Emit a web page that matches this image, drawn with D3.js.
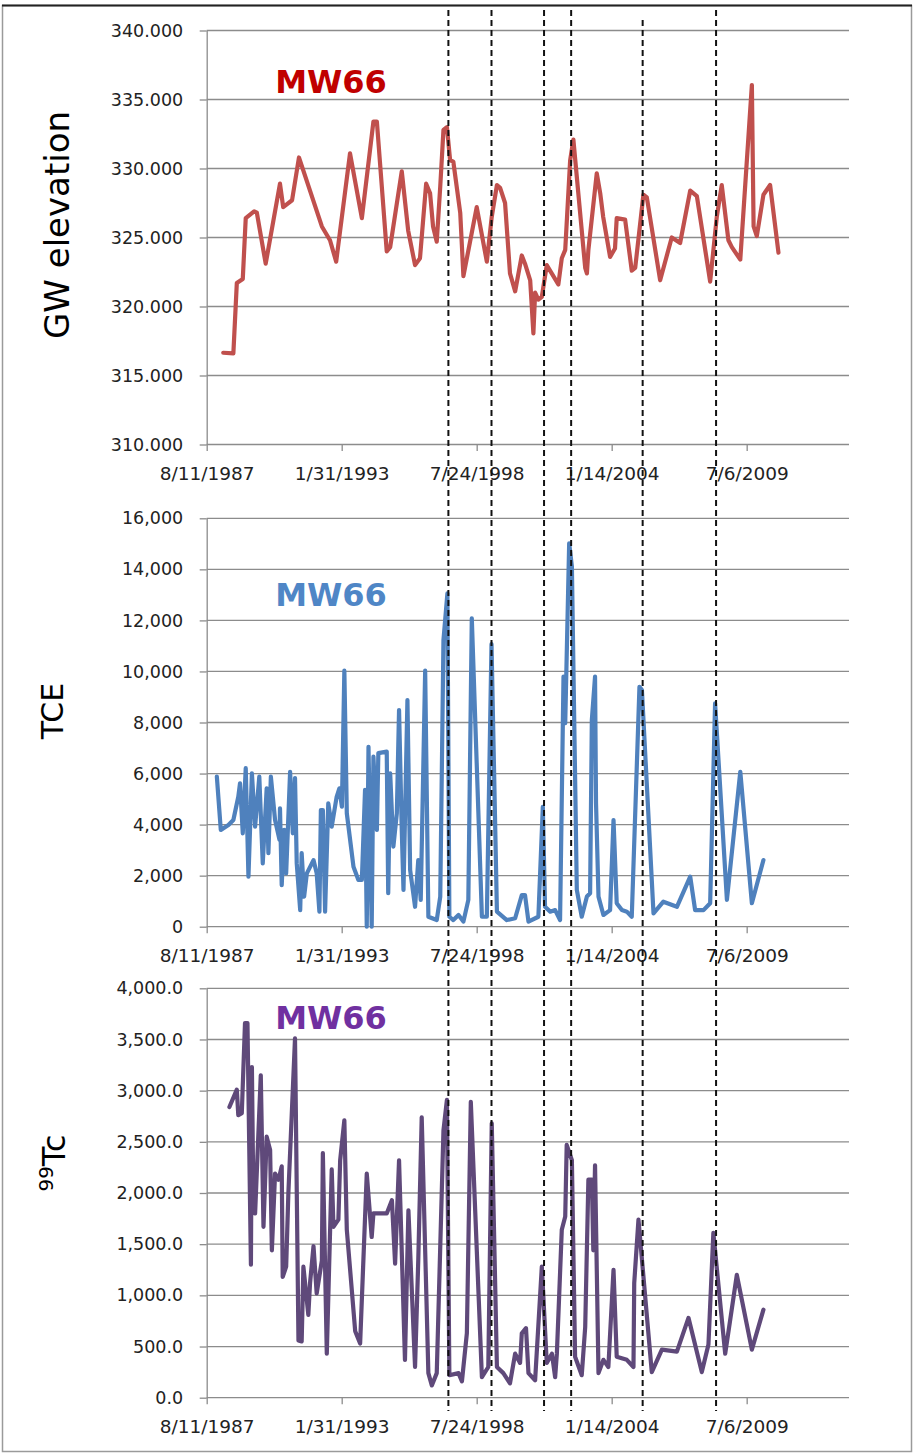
<!DOCTYPE html>
<html lang="en">
<head>
    <meta charset="UTF-8">
    <title>MW66</title>
    <script src="https://cdn.jsdelivr.net/npm/d3@7"></script>
    <style>
        body { margin: 0; background: #fff; }
        text { font-family: "DejaVu Sans", sans-serif; }
    </style>
</head>
<body>
    <div id="chart-space"></div>

    <script>
        // x axis: dates, ticks every 2000 days like the Excel chart
        var axisStart = "1987-08-11";
        var axisEnd = "2013-08-30";
        var tickDates = ["1987-08-11", "1993-01-31", "1998-07-24", "2004-01-14", "2009-07-06"];
        var tickLabels = ["8/11/1987", "1/31/1993", "7/24/1998", "1/14/2004", "7/6/2009"];

        // dashed event lines (decimal years)
        var eventYears = [1997.41, 1999.16, 2001.29, 2002.39, 2005.29, 2008.27];

        // GW elevation
        var gwYears = [1988.28,1988.69,1988.83,1989.07,1989.19,1989.53,1989.64,1990.00,1990.58,1990.71,
            1991.07,1991.35,1992.28,1992.61,1992.86,1993.42,1993.90,1994.37,1994.51,1994.91,
            1995.05,1995.52,1995.78,1996.06,1996.26,1996.51,1996.67,1996.79,1996.94,1997.08,
            1997.21,1997.35,1997.48,1997.61,1997.89,1998.02,1998.56,1998.97,1999.17,1999.38,
            1999.51,1999.71,1999.91,2000.12,2000.39,2000.52,2000.73,2000.86,2000.93,2001.06,
            2001.20,2001.40,2001.87,2002.01,2002.15,2002.35,2002.48,2002.96,2003.03,2003.09,
            2003.43,2003.57,2003.69,2003.97,2004.17,2004.24,2004.58,2004.85,2004.99,2005.32,
            2005.46,2006.00,2006.47,2006.81,2007.22,2007.49,2008.03,2008.30,2008.50,2008.77,
            2008.91,2009.25,2009.72,2009.79,2009.92,2010.19,2010.46,2010.80];
        var gwValues = [316.65,316.6,321.7,322.0,326.4,326.9,326.8,323.1,328.9,327.2,
            327.7,330.8,325.8,324.8,323.25,331.1,326.4,333.4,333.4,324.0,
            324.3,329.8,325.5,323.0,323.5,328.9,328.2,325.8,324.7,328.7,
            332.8,333.0,330.6,330.5,326.8,322.2,327.2,323.25,326.5,328.8,
            328.6,327.5,322.4,321.1,323.7,323.1,321.9,318.05,321.0,320.5,
            320.7,323.0,321.6,323.5,324.1,330.6,332.1,322.8,322.4,324.1,
            329.65,328.2,326.5,323.6,324.2,326.4,326.3,322.6,322.8,328.1,
            327.9,321.9,325.0,324.6,328.4,328.0,321.8,326.5,328.8,324.8,
            324.3,323.4,336.05,325.8,325.1,328.1,328.8,323.9];

        // TCE
        var tceYears = [1988.02,1988.18,1988.49,1988.69,1988.89,1988.96,1989.07,1989.19,1989.30,1989.44,
            1989.57,1989.74,1989.88,1990.04,1990.11,1990.21,1990.38,1990.56,1990.58,1990.65,
            1990.75,1990.83,1990.99,1991.10,1991.19,1991.26,1991.40,1991.46,1991.56,1991.67,
            1991.94,1992.07,1992.18,1992.24,1992.32,1992.41,1992.54,1992.68,1992.88,1992.99,
            1993.09,1993.19,1993.29,1993.56,1993.76,1993.90,1994.03,1994.10,1994.17,1994.30,
            1994.37,1994.51,1994.57,1994.91,1994.97,1995.05,1995.18,1995.32,1995.41,1995.52,
            1995.59,1995.75,1995.86,1996.06,1996.19,1996.29,1996.47,1996.60,1996.94,1997.08,
            1997.21,1997.37,1997.45,1997.61,1997.82,1998.02,1998.22,1998.36,1998.77,1998.97,
            1999.16,1999.38,1999.78,2000.12,2000.39,2000.52,2000.66,2001.06,2001.24,2001.33,
            2001.54,2001.74,2001.94,2002.08,2002.15,2002.31,2002.42,2002.62,2002.82,2003.03,
            2003.16,2003.23,2003.36,2003.40,2003.50,2003.70,2003.97,2004.11,2004.24,2004.45,
            2004.65,2004.85,2005.16,2005.26,2005.73,2006.13,2006.68,2007.22,2007.42,2007.76,
            2008.03,2008.23,2008.71,2009.25,2009.72,2010.19];
        var tceValues = [5880,3790,3985,4180,5090,5620,3660,6210,1960,6010,
            3920,5880,2480,5420,2880,5880,4180,3400,4640,1630,
            3790,2090,6070,3660,5820,2480,650,2880,1180,2090,
            2610,2090,590,4570,4570,590,4830,3920,5090,5420,
            4700,10030,4440,2350,1830,1830,5360,0,7050,0,
            6660,3790,6800,6860,1310,6010,3140,4440,8490,3790,
            1440,8880,2220,780,2610,1050,10030,390,260,1180,
            11230,13060,390,260,460,200,1050,12080,390,390,
            11070,590,260,330,1240,1240,200,390,4700,780,
            590,650,260,9800,7970,15020,14110,1440,390,1180,
            1310,8100,9800,4840,1180,460,650,4180,920,650,
            590,390,9400,9270,520,980,780,1960,650,650,
            920,8750,1050,6070,920,2610];

        // 99Tc
        var tcYears = [1988.53,1988.83,1988.89,1989.03,1989.16,1989.26,1989.40,1989.44,1989.50,1989.57,
            1989.80,1989.91,1990.04,1990.18,1990.25,1990.38,1990.52,1990.65,1990.69,1990.83,
            1990.92,1991.19,1991.33,1991.46,1991.53,1991.73,1991.80,1991.94,1992.07,1992.28,
            1992.32,1992.48,1992.68,1992.75,1992.95,1993.02,1993.19,1993.29,1993.63,1993.83,
            1994.10,1994.30,1994.37,1994.91,1995.12,1995.25,1995.41,1995.65,1995.79,1996.06,
            1996.19,1996.33,1996.60,1996.74,1996.94,1997.21,1997.35,1997.45,1997.82,1997.96,
            1998.16,1998.32,1998.77,1999.03,1999.17,1999.38,1999.64,1999.91,2000.12,2000.32,
            2000.39,2000.56,2000.66,2000.93,2001.20,2001.40,2001.61,2001.74,2001.81,2002.01,
            2002.15,2002.21,2002.42,2002.55,2002.82,2002.96,2003.09,2003.23,2003.29,2003.36,
            2003.50,2003.70,2003.90,2004.11,2004.24,2004.65,2004.92,2004.95,2005.12,2005.66,
            2006.07,2006.68,2007.15,2007.69,2007.96,2008.16,2008.64,2009.11,2009.72,2010.19];
        var tcValues = [2840,3010,2760,2780,3660,3660,1300,3230,1930,1800,
            3150,1670,2550,2420,1440,2190,2130,2260,1180,1280,
            2000,3510,560,550,1280,810,1120,1480,1020,1340,
            2390,430,2230,1670,1740,2320,2710,1640,650,530,
            2190,1570,1800,1800,1930,1310,2320,370,1830,300,
            1340,2740,240,120,240,2610,2910,220,240,160,
            630,2890,200,300,2680,300,240,140,430,340,
            630,680,240,170,1280,340,430,200,430,1640,
            1770,2470,2320,400,220,690,2130,2130,1440,2270,
            240,370,300,1250,400,370,300,1120,1740,250,
            470,450,780,250,520,1610,430,1200,470,860];

        var width = 915;
        var height = 1454;
        var plotLeft = 206.7;
        var plotRight = 849;

        function yearToDate(y) {
            var yr = Math.floor(y);
            return new Date(Date.UTC(yr, 0, 1) + (y - yr) * 365.25 * 864e5);
        }

        var svg = d3.select("#chart-space")
            .append("svg")
            .attr("width", width)
            .attr("height", height);

        // outer frame
        svg.append("rect")
            .attr("x", 2.5).attr("y", 5.5)
            .attr("width", 909).attr("height", 1446)
            .attr("fill", "none")
            .attr("stroke", "#9a9a9a")
            .attr("stroke-width", 1.5);
        svg.append("line")
            .attr("x1", 2).attr("x2", 912).attr("y1", 5.5).attr("y2", 5.5)
            .attr("stroke", "#222").attr("stroke-width", 2);

        var xScale = d3.scaleUtc()
            .domain([new Date(axisStart), new Date(axisEnd)])
            .range([plotLeft, plotRight]);

        var panels = [
            {top: 30.5, bottom: 444.5, domain: [310, 340], ticks: d3.range(310, 340.01, 5), fmt: d3.format(".3f"),
             years: gwYears, values: gwValues, color: "#c0504d", titleColor: "#c00000", titleY: 93},
            {top: 518.3, bottom: 926.7, domain: [0, 16000], ticks: d3.range(0, 16001, 2000), fmt: d3.format(","),
             years: tceYears, values: tceValues, color: "#4f81bd", titleColor: "#4f86c6", titleY: 606},
            {top: 988.3, bottom: 1397.7, domain: [0, 4000], ticks: d3.range(0, 4001, 500), fmt: d3.format(",.1f"),
             years: tcYears, values: tcValues, color: "#5f497a", titleColor: "#7030a0", titleY: 1029}
        ];

        panels.forEach(function(p) {
            var yScale = d3.scaleLinear().domain(p.domain).range([p.bottom, p.top]);

            // gridlines
            svg.append("g")
                .selectAll("line")
                .data(p.ticks)
                .join("line")
                .attr("x1", plotLeft).attr("x2", plotRight)
                .attr("y1", function(d) { return yScale(d); })
                .attr("y2", function(d) { return yScale(d); })
                .attr("stroke", "#8c8c8c")
                .attr("stroke-width", 1.3);

            var yAxis = svg.append("g")
                .attr("transform", "translate(" + plotLeft + ",0)")
                .call(d3.axisLeft(yScale).tickValues(p.ticks).tickFormat(p.fmt).tickSize(7).tickSizeOuter(0).tickPadding(16.5));
            yAxis.selectAll("line, path").attr("stroke", "#8c8c8c").attr("stroke-width", 1.3);
            yAxis.selectAll("text").attr("font-size", "17.5px").attr("fill", "#222")
                .attr("font-family", "DejaVu Sans");

            var xAxis = svg.append("g")
                .attr("transform", "translate(0," + p.bottom + ")")
                .call(d3.axisBottom(xScale)
                    .tickValues(tickDates.map(function(d) { return new Date(d); }))
                    .tickFormat(function(d, i) { return tickLabels[i]; })
                    .tickSize(6.5).tickSizeOuter(0));
            xAxis.select(".domain").remove();
            xAxis.selectAll("line").attr("stroke", "#8c8c8c").attr("stroke-width", 1.3);
            xAxis.selectAll("text").attr("font-size", "18.5px").attr("fill", "#222")
                .attr("font-family", "DejaVu Sans").attr("y", 35.5).attr("dy", 0);

            var line = d3.line()
                .x(function(d, i) { return xScale(yearToDate(p.years[i])); })
                .y(function(d) { return yScale(d); });

            svg.append("path")
                .datum(p.values.slice(0, p.years.length))
                .attr("d", line)
                .attr("fill", "none")
                .attr("stroke", p.color)
                .attr("stroke-width", 4.2)
                .attr("stroke-linejoin", "round")
                .attr("stroke-linecap", "round");

            svg.append("text")
                .attr("x", 331).attr("y", p.titleY)
                .attr("text-anchor", "middle")
                .attr("font-size", "32px")
                .attr("font-weight", "bold")
                .attr("fill", p.titleColor)
                .text("MW66");
        });

        // axis titles
        svg.append("text")
            .attr("transform", "translate(69,225) rotate(-90)")
            .attr("text-anchor", "middle")
            .attr("font-size", "34px")
            .attr("fill", "#000")
            .text("GW elevation");

        svg.append("text")
            .attr("transform", "translate(63,711) rotate(-90)")
            .attr("text-anchor", "middle")
            .attr("font-size", "30px")
            .attr("fill", "#000")
            .text("TCE");

        var tcTitle = svg.append("text")
            .attr("transform", "translate(65,1163) rotate(-90)")
            .attr("text-anchor", "middle")
            .attr("fill", "#000");
        tcTitle.append("tspan").attr("font-size", "20px").attr("dy", -12).text("99");
        tcTitle.append("tspan").attr("font-size", "32px").attr("dy", 12).text("Tc");

        // dashed event lines over everything
        svg.append("g")
            .selectAll("line")
            .data(eventYears)
            .join("line")
            .attr("x1", function(d) { return xScale(yearToDate(d)); })
            .attr("x2", function(d) { return xScale(yearToDate(d)); })
            .attr("y1", function(d, i) { return i == 4 ? 20 : 10; })
            .attr("y2", 1411)
            .attr("stroke", "#111")
            .attr("stroke-width", 2)
            .attr("stroke-dasharray", "6,4");
    </script>
</body>
</html>
